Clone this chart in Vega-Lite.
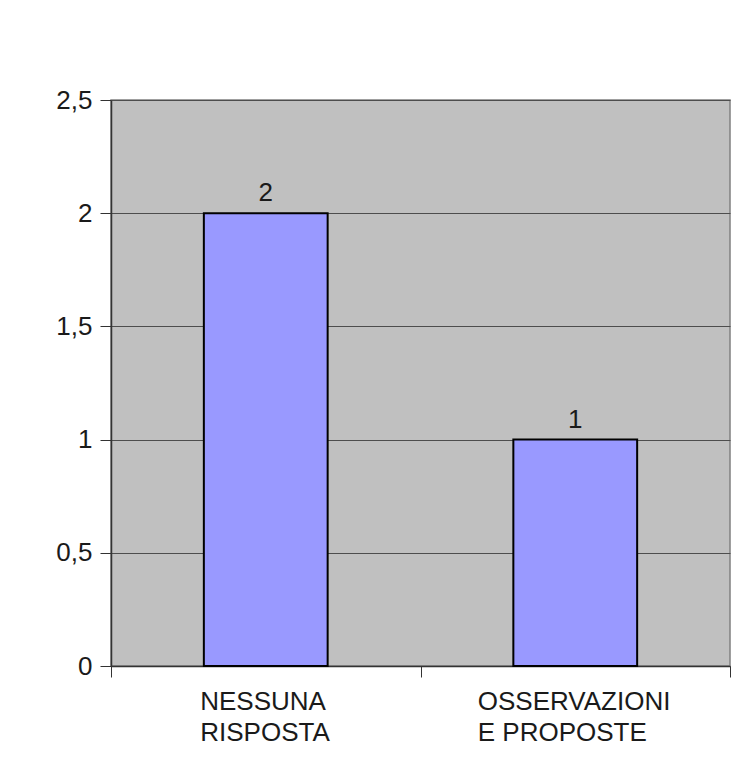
{
  "$schema": "https://vega.github.io/schema/vega-lite/v6.json",
  "autosize": "none",
  "width": 619,
  "height": 566,
  "padding": {"left": 111, "top": 100, "right": 19, "bottom": 118},
  "background": "white",
  "data": {
    "values": [
      {"categoria": "NESSUNA|RISPOSTA", "valore": 2},
      {"categoria": "OSSERVAZIONI|E PROPOSTE", "valore": 1}
    ]
  },
  "encoding": {
    "x": {
      "field": "categoria",
      "type": "nominal",
      "sort": null,
      "scale": {"paddingInner": 0, "paddingOuter": 0},
      "axis": {
        "title": null,
        "labelAngle": 0,
        "tickBand": "extent",
        "tickSize": 11,
        "tickColor": "#333333",
        "domainColor": "#333333",
        "labelExpr": "split(datum.label, '|')",
        "labelAlign": "left",
        "labelOffset": {"condition": {"test": "datum.value == 'NESSUNA|RISPOSTA'", "value": -66}, "value": -98},
        "labelBaseline": "top",
        "labelPadding": 11,
        "labelLineHeight": 31,
        "labelFont": "Liberation Sans",
        "labelFontSize": 26,
        "labelColor": "#1a1a1a",
        "labelLimit": 400
      }
    },
    "y": {
      "field": "valore",
      "type": "quantitative",
      "scale": {"domain": [0, 2.5], "nice": false},
      "axis": {
        "title": null,
        "values": [0, 0.5, 1, 1.5, 2, 2.5],
        "labelExpr": "replace(toString(datum.value), '.', ',')",
        "tickSize": 11,
        "tickColor": "#333333",
        "domainColor": "#333333",
        "gridColor": "#4d4d4d",
        "gridWidth": 1,
        "labelPadding": 8,
        "labelFont": "Liberation Sans",
        "labelFontSize": 26,
        "labelColor": "#1a1a1a"
      }
    }
  },
  "layer": [
    {
      "mark": {"type": "bar", "width": {"band": 0.4}, "color": "#9999ff", "stroke": "#000000", "strokeWidth": 2}
    },
    {
      "mark": {"type": "text", "dy": -12, "baseline": "alphabetic", "font": "Liberation Sans", "fontSize": 26, "color": "#1a1a1a"},
      "encoding": {"text": {"field": "valore", "type": "quantitative", "format": "d"}}
    }
  ],
  "config": {
    "view": {"fill": "#c0c0c0", "stroke": "#808080", "strokeWidth": 1.5},
    "axis": {"domainWidth": 1.5}
  }
}
